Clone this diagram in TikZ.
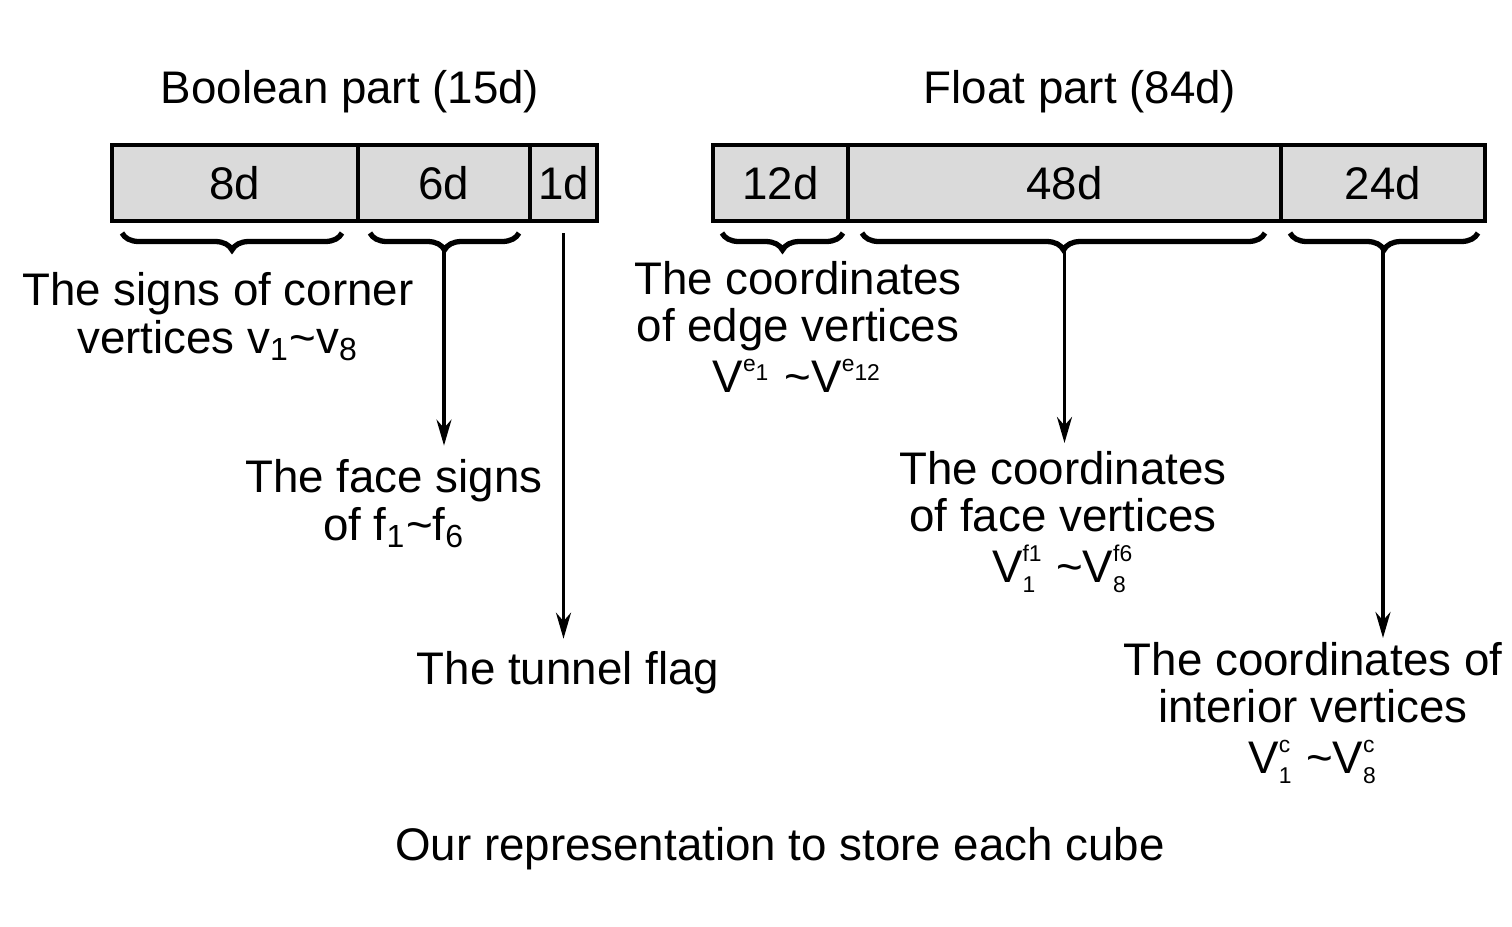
\documentclass[tikz,border=0pt]{standalone}
\usepackage{fontspec}
\setmainfont{Liberation Sans}
\usepackage{amsmath}
\usetikzlibrary{arrows.meta,decorations.pathreplacing,positioning}
\definecolor{cellgray}{RGB}{218,218,218}
\tikzset{
  cell/.style={draw, fill=cellgray, line width=0.9pt, minimum height=7.6mm,
    inner sep=0pt, outer sep=0pt},
  lbl/.style={align=center, inner sep=1pt},
  brc/.style={decorate, decoration={brace, mirror, amplitude=1.7mm}, line width=1.5pt},
  arr/.style={-{Stealth[length=2.6mm, width=1.5mm]}, line width=0.9pt},
}
\newcommand{\sm}[1]{\scriptscriptstyle\text{#1}}
\begin{document}
\begin{tikzpicture}[x=1mm, y=-1mm, font=\fontsize{13}{13.4}\selectfont]
  \useasboundingbox (0,0) rectangle (151.2,92.6);
  % titles
  \node[anchor=base] (bool) at (35.0,10.3) {Boolean part (15d)};
  \node[anchor=base] (flt) at (108.0,10.3) {Float part (84d)};
  % boolean part
  \node[cell, minimum width=24.6mm, anchor=north west] (c8) at (11.2,14.5) {8d};
  \node[cell, minimum width=17.2mm, right=0pt of c8] (c6) {6d};
  \node[cell, minimum width=6.7mm, right=0pt of c6] (c1) {1d};
  % float part
  \node[cell, minimum width=13.5mm, anchor=north west] (c12) at (71.3,14.5) {12d};
  \node[cell, minimum width=43.3mm, right=0pt of c12] (c48) {48d};
  \node[cell, minimum width=20.4mm, right=0pt of c48] (c24) {24d};
  % braces
  \draw[brc] ([xshift=1mm,yshift=-1.2mm]c8.south west) -- ([xshift=-1.6mm,yshift=-1.2mm]c8.south east);
  \draw[brc] ([xshift=1.2mm,yshift=-1.2mm]c6.south west) -- ([xshift=-1.1mm,yshift=-1.2mm]c6.south east);
  \draw[brc] ([xshift=0.9mm,yshift=-1.2mm]c12.south west) -- ([xshift=-0.5mm,yshift=-1.2mm]c12.south east);
  \draw[brc] ([xshift=1.4mm,yshift=-1.2mm]c48.south west) -- ([xshift=-1.6mm,yshift=-1.2mm]c48.south east);
  \draw[brc] ([xshift=0.9mm,yshift=-1.2mm]c24.south west) -- ([xshift=-0.7mm,yshift=-1.2mm]c24.south east);
  \coordinate (t6) at ([yshift=-2.9mm]c6.south);
  \coordinate (t1) at ([yshift=-1.2mm]c1.south);
  \coordinate (t48) at ([yshift=-2.9mm]c48.south);
  \coordinate (t24) at ([yshift=-2.9mm]c24.south);
  % labels (base = last line)
  \node[lbl, anchor=base] (corner) at (21.8,35.3)
    {The signs of corner\\vertices v\textsubscript{1}\textasciitilde v\textsubscript{8}};
  \node[lbl, anchor=base] (face) at (39.4,54.0)
    {The face signs\\of f\textsubscript{1}\textasciitilde f\textsubscript{6}};
  \node[lbl, anchor=base] (tunnel) at (56.8,68.4) {The tunnel flag};
  \node[lbl, anchor=base] (edge) at (79.8,39.2)
    {The coordinates\\of edge vertices\\[1pt]$\text{V}^{\sm{e}_{\sm{1}}}$ \textasciitilde$\text{V}^{\sm{e}_{\sm{12}}}$};
  \node[lbl, anchor=base] (facev) at (106.3,58.2)
    {The coordinates\\of face vertices\\[1pt]$\text{V}_{\sm{1}}^{\sm{f1}}$ \textasciitilde$\text{V}_{\sm{8}}^{\sm{f6}}$};
  \node[lbl, anchor=base] (inter) at (131.3,77.3)
    {The coordinates of\\interior vertices\\[1pt]$\text{V}_{\sm{1}}^{\sm{c}}$ \textasciitilde$\text{V}_{\sm{8}}^{\sm{c}}$};
  \node[anchor=base] (cap) at (78.0,86.0) {Our representation to store each cube};
  % arrows
  \draw[arr, shorten >=1mm] (t6) -- (t6 |- face.north);
  \draw[arr, shorten >=0.8mm] (t1) -- (t1 |- tunnel.north);
  \draw[arr, shorten >=0.4mm] (t48) -- (t48 |- facev.north);
  \draw[arr] (t24) -- (t24 |- inter.north);
\end{tikzpicture}
\end{document}
